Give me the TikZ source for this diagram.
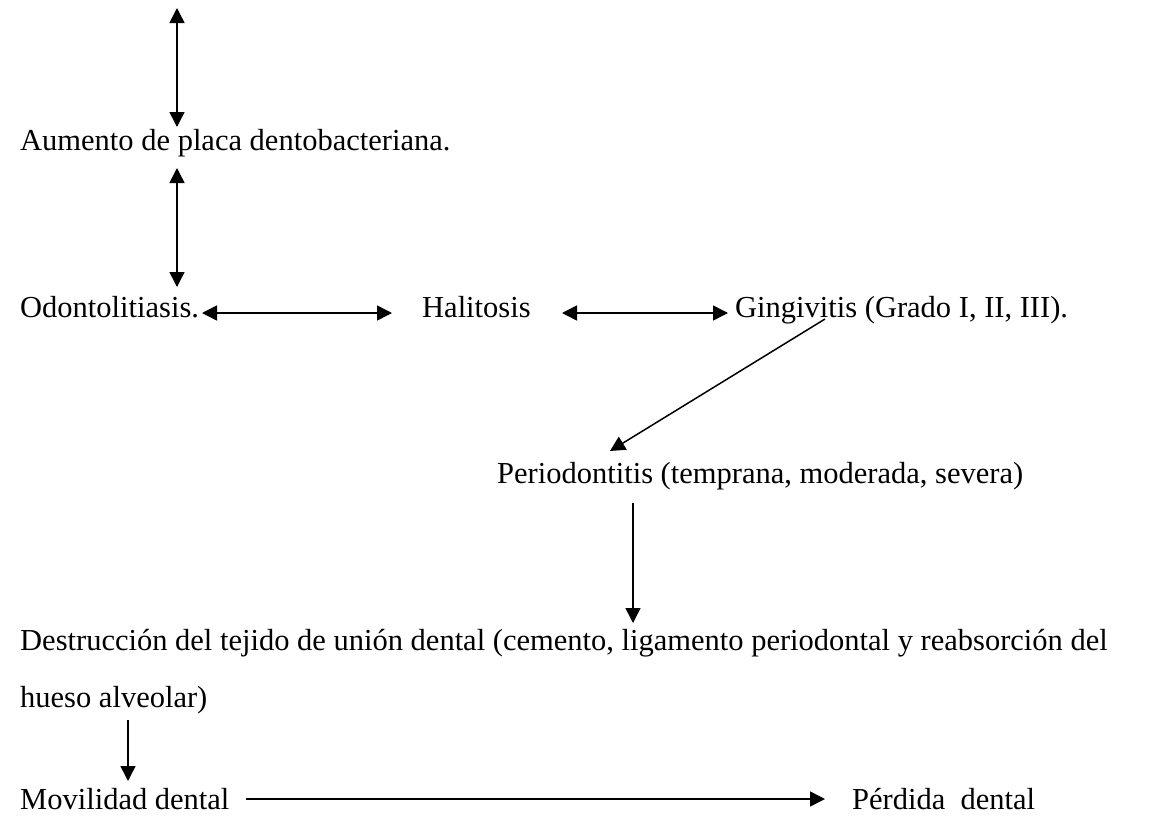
\documentclass[tikz,border=0pt]{standalone}
\usepackage{fontspec}
\setmainfont{Liberation Serif}
\usetikzlibrary{arrows.meta}
\begin{document}
\begin{tikzpicture}[x=1pt,y=-1pt,
  lbl/.style={anchor=base west,inner sep=0pt,font=\fontsize{30.5}{36}\selectfont},
  conn/.style={line width=1.5pt,-{Triangle[length=15pt,width=15pt]}},
  dconn/.style={line width=1.5pt,{Triangle[length=15pt,width=15pt]}-{Triangle[length=15pt,width=15pt]}}]
\useasboundingbox (0,0) rectangle (1156,817);
\node[lbl] (aumento) at (20,150) {Aumento de placa dentobacteriana.};
\node[lbl] (odonto) at (20,317) {Odontolitiasis.};
\node[lbl] (hali) at (422,317) {Halitosis};
\node[lbl] (gingi) at (735,317) {Gingivitis (Grado I, II, III).};
\node[lbl] (perio) at (497,483) {Periodontitis (temprana, moderada, severa)};
\node[lbl] (destr) at (20,650) {Destrucción del tejido de unión dental (cemento, ligamento periodontal y reabsorción del};
\node[lbl] (hueso) at (20,707) {hueso alveolar)};
\node[lbl] (movil) at (20,809) {Movilidad dental};
\node[lbl] (perdida) at (852,809) {Pérdida\ \ dental};
\coordinate (t0) at (177,8);
\coordinate (t1) at (177,127);
\coordinate (t2) at (177,168);
\coordinate (t3) at (177,287);
\coordinate (h0) at (202,313);
\coordinate (h1) at (392,313);
\coordinate (h2) at (562,313);
\coordinate (h3) at (728,313);
\coordinate (d0) at (825,319);
\coordinate (d1) at (610,451);
\coordinate (p0) at (633,503);
\coordinate (p1) at (633,623);
\coordinate (m0) at (128,720);
\coordinate (m1) at (128,781);
\coordinate (b0) at (246,799);
\coordinate (b1) at (825,799);
\draw[dconn] (t0) -- (t1);
\draw[dconn] (t2) -- (t3);
\draw[dconn] (h0) -- (h1);
\draw[dconn] (h2) -- (h3);
\draw[conn] (d0) -- (d1);
\draw[conn] (p0) -- (p1);
\draw[conn] (m0) -- (m1);
\draw[conn] (b0) -- (b1);
\end{tikzpicture}
\end{document}
